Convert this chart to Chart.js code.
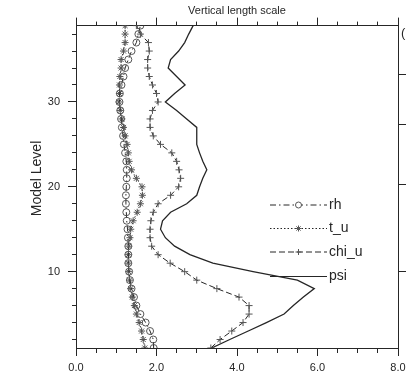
<!DOCTYPE html>
<html>
<head>
<meta charset="UTF-8">
<title>Vertical length scale</title>
<script src="https://cdn.jsdelivr.net/npm/chart.js"></script>
<style>
  body { margin: 0; background: #fff; }
  canvas { display: block; }
</style>
</head>
<body>
<canvas id="vls" width="406" height="380"></canvas>
<script>
// model levels (y axis) and length-scale values (x axis)
const levels = [1, 2, 3, 4, 5, 6, 7, 8, 9, 10, 11, 12, 13, 14, 15, 16, 17, 18, 19, 20,
                21, 22, 23, 24, 25, 26, 27, 28, 29, 30, 31, 32, 33, 34, 35, 36, 37, 38, 39];
const rh    = [1.93, 1.92, 1.84, 1.73, 1.60, 1.50, 1.44, 1.38, 1.34, 1.32, 1.30, 1.30, 1.30,
               1.29, 1.28, 1.26, 1.25, 1.24, 1.24, 1.25, 1.26, 1.26, 1.25, 1.22, 1.19, 1.17,
               1.14, 1.12, 1.10, 1.08, 1.09, 1.13, 1.18, 1.22, 1.30, 1.38, 1.50, 1.55, 1.60];
const t_u   = [1.71, 1.67, 1.63, 1.57, 1.50, 1.45, 1.40, 1.36, 1.33, 1.31, 1.30, 1.30, 1.31,
               1.34, 1.36, 1.42, 1.52, 1.60, 1.65, 1.64, 1.50, 1.38, 1.32, 1.30, 1.27, 1.22,
               1.18, 1.14, 1.10, 1.07, 1.08, 1.08, 1.09, 1.12, 1.12, 1.18, 1.22, 1.22, 1.22];
const chi_u = [3.35, 3.58, 3.87, 4.15, 4.30, 4.30, 4.05, 3.50, 3.00, 2.70, 2.34, 2.04, 1.88,
               1.84, 1.84, 1.86, 1.92, 2.04, 2.35, 2.55, 2.60, 2.56, 2.50, 2.38, 2.10, 1.92,
               1.84, 1.84, 1.90, 2.04, 2.00, 1.90, 1.82, 1.78, 1.78, 1.82, 1.80, 1.60, 1.50];
const psi   = [3.37, 3.82, 4.28, 4.73, 5.17, 5.40, 5.65, 5.92, 5.50, 4.40, 3.40, 2.83, 2.45,
               2.22, 2.10, 2.15, 2.35, 2.75, 3.00, 3.07, 3.15, 3.25, 3.15, 3.07, 3.00, 3.00,
               3.00, 2.75, 2.50, 2.22, 2.45, 2.71, 2.50, 2.29, 2.35, 2.55, 2.70, 2.80, 2.91];

// tick positions
const xTicks = [0, 0.5, 1, 1.5, 2, 2.5, 3, 3.5, 4, 4.5, 5, 5.5, 6, 6.5, 7, 7.5, 8];
const xLabels = [0, 2, 4, 6, 8];
const yTicks = [2, 4, 6, 8, 10, 12, 14, 16, 18, 20, 22, 24, 26, 28, 30, 32, 34, 36, 38];
const yLabels = [10, 20, 30];
const rightTicks = [10, 20.3, 27.4, 33.2];

const ink = '#262626';
const font = "'Liberation Sans', Arial, Helvetica, sans-serif";

const series = [
  { label: 'rh',    values: rh,    dash: [6, 3, 1.5, 3], style: 'circle', radius: 3.5 },
  { label: 't_u',   values: t_u,   dash: [1.5, 2],       style: 'star',   radius: 3.5 },
  { label: 'chi_u', values: chi_u, dash: [6, 3],         style: 'cross',  radius: 3.5 },
  { label: 'psi',   values: psi,   dash: [],             style: false,    radius: 0 }
];

function toPoints(vals) {
  return vals.map((v, i) => ({ x: v, y: levels[i] }));
}

// short minor ticks: dash pattern keeps only the part next to the axis
function tickDash(isMajor, outerFirst) {
  return ctx => {
    if (ctx.tick && isMajor(ctx.tick.value)) return [];
    return outerFirst ? [0, 4, 4, 100] : [4, 100];
  };
}
const xMajor = v => xLabels.includes(v);
const yMajor = v => yLabels.includes(v);

const extras = {
  id: 'extras',
  afterDraw(chart) {
    const ctx = chart.ctx;
    const area = chart.chartArea;

    // y axis title
    ctx.save();
    ctx.fillStyle = ink;
    ctx.font = '14px ' + font;
    ctx.textAlign = 'center';
    ctx.textBaseline = 'middle';
    ctx.translate(37.5, 178.5);
    ctx.rotate(-Math.PI / 2);
    ctx.fillText('Model Level', 0, 0);
    ctx.restore();

    // clipped label of the neighbouring panel
    ctx.save();
    ctx.fillStyle = ink;
    ctx.font = '13px ' + font;
    ctx.textBaseline = 'middle';
    ctx.fillText('(', area.right + 3, 33);
    ctx.restore();

    // legend
    const x0 = area.right - 128, x1 = area.right - 71;
    const rows = [205, 228.5, 252, 276.5];
    series.forEach((s, i) => {
      const y = rows[i];
      ctx.save();
      ctx.strokeStyle = ink;
      ctx.lineWidth = 1;
      ctx.setLineDash(s.dash);
      ctx.beginPath();
      ctx.moveTo(x0, y);
      ctx.lineTo(x1, y);
      ctx.stroke();
      ctx.setLineDash([]);
      if (s.style) {
        ctx.strokeStyle = '#555';
        ctx.fillStyle = '#fff';
        Chart.helpers.drawPoint(ctx, { pointStyle: s.style, radius: s.radius - 0.5, borderWidth: 1, rotation: 0 },
          (x0 + x1) / 2, y);
      }
      ctx.fillStyle = ink;
      ctx.font = '14px ' + font;
      ctx.textBaseline = 'middle';
      ctx.fillText(s.label, x1 + 2, y);
      ctx.restore();
    });
  }
};

new Chart(document.getElementById('vls'), {
  type: 'scatter',
  data: {
    datasets: series.map(s => ({
      label: s.label,
      data: toPoints(s.values),
      showLine: true,
      borderColor: ink,
      borderWidth: s.label === 'psi' ? 1.3 : 1,
      borderDash: s.dash,
      pointStyle: s.style,
      pointRadius: s.radius,
      pointBorderColor: '#555',
      pointBackgroundColor: 'rgba(0,0,0,0)',
      pointBorderWidth: 1,
      tension: 0,
      fill: false
    }))
  },
  options: {
    responsive: false,
    animation: false,
    devicePixelRatio: 1,
    layout: { padding: 0 },
    plugins: {
      legend: { display: false },
      tooltip: { enabled: false },
      title: {
        display: true,
        text: 'Vertical length scale',
        fullSize: false,
        color: ink,
        font: { family: font, size: 11, weight: 'normal' },
        padding: { top: 4, bottom: 0.4 }
      }
    },
    scales: {
      x: {
        type: 'linear', position: 'bottom', min: 0, max: 8,
        afterBuildTicks: s => { s.ticks = xTicks.map(v => ({ value: v })); },
        afterFit: s => { s.height = 32; s.paddingLeft = 0; s.paddingRight = 0; },
        ticks: {
          autoSkip: false, maxRotation: 0, padding: 5, color: ink,
          font: { family: font, size: 11 },
          callback: v => xMajor(v) ? v.toFixed(1) : ''
        },
        grid: { drawOnChartArea: false, tickLength: 8, tickColor: ink, tickWidth: 1,
                tickBorderDash: tickDash(xMajor, false) },
        border: { color: ink, width: 1 }
      },
      x2: {
        type: 'linear', position: 'top', min: 0, max: 8,
        afterBuildTicks: s => { s.ticks = xTicks.map(v => ({ value: v })); },
        afterFit: s => { s.height = 8; s.paddingLeft = 0; s.paddingRight = 0; },
        ticks: { display: false, autoSkip: false },
        grid: { drawOnChartArea: false, tickLength: 8, tickColor: ink, tickWidth: 1,
                tickBorderDash: tickDash(xMajor, true) },
        border: { color: ink, width: 1 }
      },
      y: {
        type: 'linear', position: 'left', min: 1, max: 39,
        afterBuildTicks: s => { s.ticks = yTicks.map(v => ({ value: v })); },
        afterFit: s => { s.width = 76; },
        ticks: {
          autoSkip: false, padding: 8, color: ink,
          font: { family: font, size: 11 },
          callback: v => yMajor(v) ? String(v) : ''
        },
        grid: { drawOnChartArea: false, tickLength: 8, tickColor: ink, tickWidth: 1,
                tickBorderDash: tickDash(yMajor, true) },
        border: { color: ink, width: 1 }
      },
      y2: {
        type: 'linear', position: 'right', min: 1, max: 39,
        afterBuildTicks: s => { s.ticks = rightTicks.map(v => ({ value: v })); },
        afterFit: s => { s.width = 8; },
        ticks: { display: false, autoSkip: false },
        grid: { drawOnChartArea: false, tickLength: 8, tickColor: ink, tickWidth: 1 },
        border: { color: ink, width: 1 }
      }
    }
  },
  plugins: [extras]
});
</script>
</body>
</html>
